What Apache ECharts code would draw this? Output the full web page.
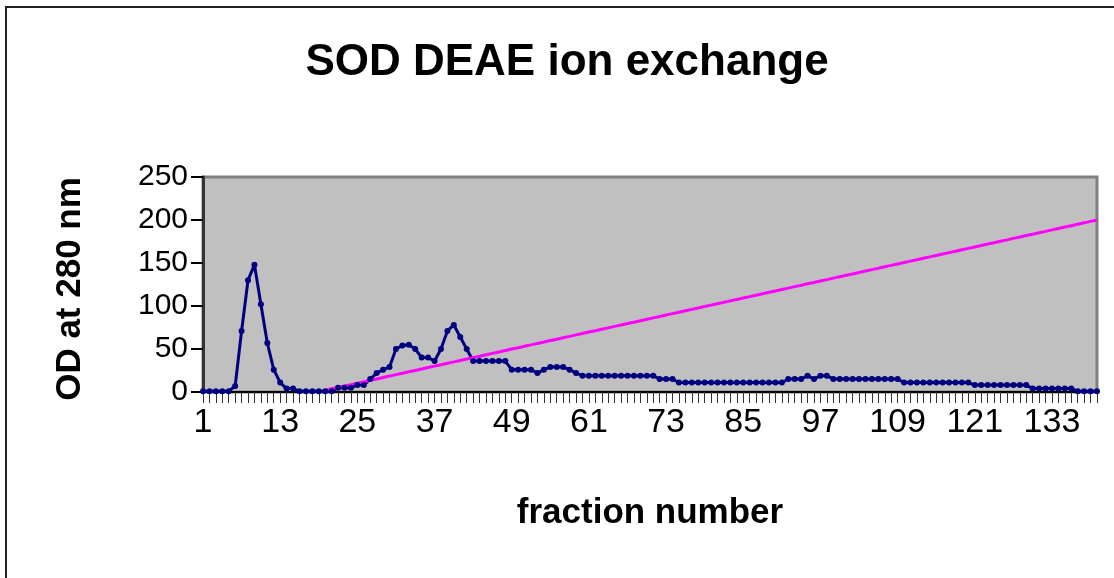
<!DOCTYPE html>
<html>
<head>
<meta charset="utf-8">
<script src="https://cdn.jsdelivr.net/npm/echarts@6/dist/echarts.min.js"></script>
<style>
  html, body { margin: 0; padding: 0; background: #fff; }
  #main { width: 1114px; height: 578px; }
</style>
</head>
<body>
<div id="main"></div>
<script>
// fraction numbers 1..140
const fractions = [];
for (let i = 1; i <= 140; i++) fractions.push(String(i));

// OD at 280 nm
const od280 = [
  1, 1, 1, 1, 1, 7, 71, 130, 148, 102,
  57, 26, 11, 4, 4, 1, 1, 1, 1, 1,
  1, 5, 5, 5, 8, 8, 15, 22, 26, 29,
  50, 54, 55, 50, 40, 40, 36, 50, 71, 78,
  64, 50, 36, 36, 36, 36, 36, 36, 26, 26,
  26, 26, 22, 26, 29, 29, 29, 26, 22, 19,
  19, 19, 19, 19, 19, 19, 19, 19, 19, 19,
  19, 15, 15, 15, 11, 11, 11, 11, 11, 11,
  11, 11, 11, 11, 11, 11, 11, 11, 11, 11,
  11, 15, 15, 15, 19, 15, 19, 19, 15, 15,
  15, 15, 15, 15, 15, 15, 15, 15, 15, 11,
  11, 11, 11, 11, 11, 11, 11, 11, 11, 11,
  8, 8, 8, 8, 8, 8, 8, 8, 8, 4,
  4, 4, 4, 4, 4, 4, 1, 1, 1, 1
];

// salt gradient (pink), starts at fraction 20
const gradient = [
  null, null, null, null, null, null, null, null, null, null,
  null, null, null, null, null, null, null, null, null, 2,
  3.7, 5.3, 7, 8.6, 10.3, 11.9, 13.6, 15.2, 16.9, 18.5,
  20.2, 21.8, 23.5, 25.1, 26.8, 28.4, 30.1, 31.7, 33.4, 35,
  36.7, 38.3, 40, 41.6, 43.3, 44.9, 46.6, 48.2, 49.9, 51.5,
  53.2, 54.8, 56.5, 58.1, 59.8, 61.4, 63.1, 64.7, 66.4, 68,
  69.7, 71.3, 73, 74.6, 76.3, 77.9, 79.6, 81.2, 82.9, 84.5,
  86.2, 87.8, 89.5, 91.1, 92.8, 94.4, 96.1, 97.7, 99.4, 101,
  102.7, 104.3, 106, 107.6, 109.3, 110.9, 112.6, 114.2, 115.9, 117.5,
  119.2, 120.8, 122.5, 124.1, 125.8, 127.4, 129.1, 130.7, 132.4, 134,
  135.7, 137.3, 139, 140.6, 142.3, 143.9, 145.6, 147.2, 148.9, 150.5,
  152.2, 153.8, 155.5, 157.1, 158.8, 160.4, 162.1, 163.7, 165.4, 167,
  168.7, 170.3, 172, 173.6, 175.3, 176.9, 178.6, 180.2, 181.9, 183.5,
  185.2, 186.8, 188.5, 190.1, 191.8, 193.4, 195.1, 196.7, 198.4, 200
];

const font = 'Arial, "Liberation Sans", sans-serif';

const chart = echarts.init(document.getElementById('main'));
const option = {
  animation: false,
  backgroundColor: '#fff',
  title: {
    text: 'SOD DEAE ion exchange',
    left: 562,
    top: 36,
    textAlign: 'center',
    textStyle: { fontFamily: font, fontSize: 44, fontWeight: 'bold', color: '#000' }
  },
  graphic: [
    {
      type: 'rect',
      shape: { x: 6, y: 7, width: 1130, height: 600 },
      style: { fill: 'none', stroke: '#222', lineWidth: 2 },
      silent: true
    },
    {
      // y axis title, placed by hand to sit a little below the grid centre
      type: 'text',
      x: 70, y: 289,
      rotation: Math.PI / 2,
      style: {
        text: 'OD at 280 nm',
        font: 'bold 35px ' + font,
        fill: '#000',
        align: 'center',
        verticalAlign: 'middle'
      }
    }
  ],
  grid: {
    left: 203, top: 177, right: 17, bottom: 186,
    show: true,
    backgroundColor: '#c0c0c0',
    borderColor: '#808080',
    borderWidth: 3
  },
  xAxis: {
    type: 'category',
    data: fractions,
    boundaryGap: false,
    name: 'fraction number',
    nameLocation: 'middle',
    nameGap: 104,
    nameTextStyle: { fontFamily: font, fontSize: 35, fontWeight: 'bold', color: '#000' },
    axisLine: { lineStyle: { color: '#000', width: 2 } },
    axisTick: { interval: 0, length: 11, lineStyle: { color: '#333', width: 1 } },
    axisLabel: { interval: 11, margin: 14, fontFamily: font, fontSize: 34, color: '#000' },
    splitLine: { show: false }
  },
  yAxis: {
    type: 'value',
    min: 0, max: 250, interval: 50,
    axisLine: { show: true, lineStyle: { color: '#333', width: 3 } },
    axisTick: { show: true, length: 12, lineStyle: { color: '#000', width: 2 } },
    axisLabel: { margin: 15, fontFamily: font, fontSize: 30, color: '#000' },
    splitLine: { show: false }
  },
  series: [
    {
      name: 'OD280',
      type: 'line',
      data: od280,
      symbol: 'circle',
      symbolSize: 6,
      showAllSymbol: true,
      itemStyle: { color: '#000080' },
      lineStyle: { color: '#000080', width: 3 }
    },
    {
      name: 'gradient',
      type: 'line',
      data: gradient,
      symbol: 'none',
      lineStyle: { color: '#ff00ff', width: 3 }
    }
  ]
};
chart.setOption(option);
</script>
</body>
</html>
